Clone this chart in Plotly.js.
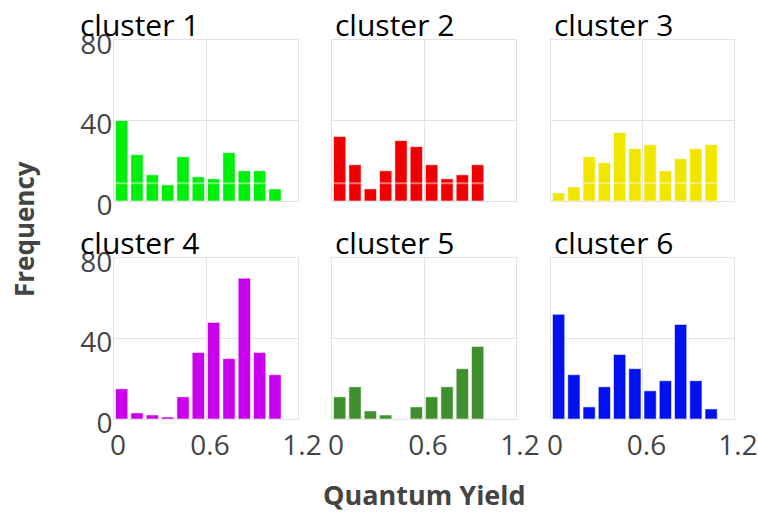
<!DOCTYPE html>
<html>
<head>
<meta charset="utf-8">
<script src="https://cdn.plot.ly/plotly-3.0.1.min.js"></script>
<style>
  html, body { margin: 0; padding: 0; background: #fff; }
  #chart { width: 758px; height: 514px; }
</style>
</head>
<body>
<div id="chart"></div>
<script>
// Histogram bins of quantum yield (bin width 0.1), given by bin centre
const binCenters = [0.05, 0.15, 0.25, 0.35, 0.45, 0.55, 0.65, 0.75, 0.85, 0.95, 1.05];

// Counts per bin for each cluster
const cluster1 = [40, 23, 13, 8, 22, 12, 11, 24, 15, 15, 6];
const cluster2 = [32, 18, 6, 15, 30, 27, 18, 11, 13, 18];
const cluster3 = [4, 7, 22, 19, 34, 26, 28, 15, 21, 26, 28];
const cluster4 = [15, 3, 2, 1, 11, 33, 48, 30, 70, 33, 22];
const cluster5 = [11, 16, 4, 2, 0, 6, 11, 16, 25, 36];
const cluster6 = [52, 22, 6, 16, 32, 25, 14, 19, 47, 19, 5];

const clusterNames = ['cluster 1', 'cluster 2', 'cluster 3', 'cluster 4', 'cluster 5', 'cluster 6'];
const clusterColors = ['#00ee0c', '#ee0000', '#f0e600', '#c800ee', '#3f8f2f', '#0010ee'];

const xTickVals = [0, 0.6, 1.2];
const xTickText = ['0', '0.6', '1.2'];
const yTickVals = [0, 40, 80];
const yTickText = ['0', '40', '80'];

const counts = [cluster1, cluster2, cluster3, cluster4, cluster5, cluster6];

const W = 758, H = 514;
// panel extents in pixels
const colPx = [[114, 298], [332, 516], [551, 734]];
const rowPx = [[40, 201], [258, 419]];
const titleLeftPx = [78, 333, 552];

const fontFamily = '"Open Sans", "Noto Sans", sans-serif';

const traces = [];
const layout = {
  width: W, height: H,
  margin: {l: 0, r: 0, t: 0, b: 0},
  paper_bgcolor: '#fff',
  plot_bgcolor: '#fff',
  showlegend: false,
  bargap: 0.2,
  font: {family: fontFamily, color: '#444'},
  annotations: [],
  shapes: []
};

counts.forEach((vals, i) => {
  const row = Math.floor(i / 3), col = i % 3;
  const n = i + 1;
  const xa = 'x' + (n === 1 ? '' : n), ya = 'y' + (n === 1 ? '' : n);
  traces.push({
    type: 'bar',
    x: binCenters.slice(0, vals.length),
    y: vals,
    xaxis: xa, yaxis: ya,
    marker: {color: clusterColors[i], line: {color: 'rgba(255,255,255,0.55)', width: 1}},
    hoverinfo: 'x+y'
  });
  const xDom = [colPx[col][0] / W, colPx[col][1] / W];
  const yDom = [1 - rowPx[row][1] / H, 1 - rowPx[row][0] / H];
  const axCommon = {
    showline: true, mirror: true, linecolor: '#e3e3e3', linewidth: 1,
    showgrid: true, gridcolor: '#e3e3e3', gridwidth: 1,
    zeroline: false, ticks: '', fixedrange: true,
    tickfont: {family: fontFamily, size: 28, color: '#444'}
  };
  layout['xaxis' + (n === 1 ? '' : n)] = Object.assign({}, axCommon, {
    domain: xDom, anchor: ya, range: [0, 1.2],
    tickmode: 'array', tickvals: xTickVals, ticktext: xTickText,
    showticklabels: row === 1, ticklabelstandoff: 1, ticklabelshift: 4
  });
  layout['yaxis' + (n === 1 ? '' : n)] = Object.assign({}, axCommon, {
    domain: yDom, anchor: xa, range: [0, 80],
    tickmode: 'array', tickvals: yTickVals, ticktext: yTickText,
    showticklabels: col === 0, ticklabelshift: 4, ticklabelstandoff: -5
  });
  layout.annotations.push({
    text: clusterNames[i], xref: 'paper', yref: 'paper',
    x: titleLeftPx[col] / W, y: yDom[1], xanchor: 'left', yanchor: 'bottom',
    yshift: -7, showarrow: false,
    font: {family: fontFamily, size: 30, color: '#000'}
  });
  if (row === 0) {
    // faint light rule across the upper panels
    layout.shapes.push({
      type: 'line', layer: 'above',
      xref: xa + ' domain', yref: ya + ' domain',
      x0: 0, x1: 1, y0: 0.11, y1: 0.11,
      line: {color: 'rgba(255,255,255,0.45)', width: 2}
    });
  }
});

layout.annotations.push({
  text: '<b>Quantum Yield</b>', xref: 'paper', yref: 'paper',
  x: 424 / W, y: 1 - 494 / H, xanchor: 'center', yanchor: 'middle',
  showarrow: false, font: {family: fontFamily, size: 27, color: '#444'}
});
layout.annotations.push({
  text: '<b>Frequency</b>', xref: 'paper', yref: 'paper',
  x: 24 / W, y: 1 - 229 / H, xanchor: 'center', yanchor: 'middle',
  textangle: -90, showarrow: false, font: {family: fontFamily, size: 26, color: '#444'}
});

Plotly.newPlot('chart', traces, layout, {displayModeBar: false, staticPlot: true});
</script>
</body>
</html>
